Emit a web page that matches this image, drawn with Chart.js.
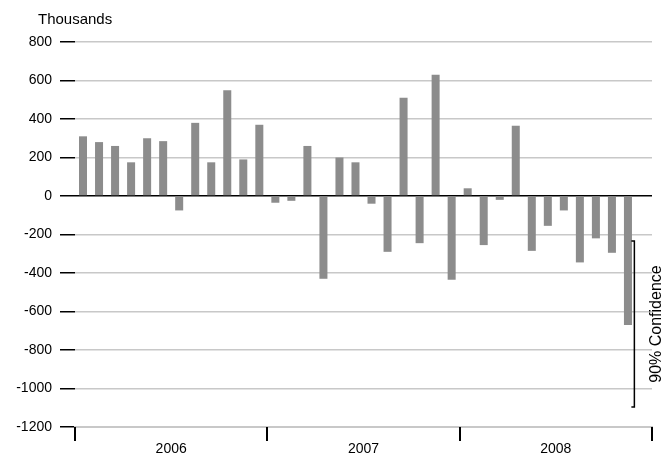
<!DOCTYPE html>
<html>
<head>
<meta charset="utf-8">
<script src="https://cdn.jsdelivr.net/npm/chart.js@4"></script>
<style>
  html, body { margin: 0; padding: 0; background: #fff; }
  #wrap { width: 662px; height: 462px; }
</style>
</head>
<body>
<div id="wrap"><canvas id="chart"></canvas></div>
<script>
// Monthly change, thousands (Jan 2006 - Dec 2008)
const months = [];
const years = ['2006', '2007', '2008'];
years.forEach(y => { for (let m = 1; m <= 12; m++) months.push(y + '-' + m); });

const values = [
  310, 280, 260, 175, 300, 285, -75, 380, 175, 550, 190, 370,
  -35, -25, 260, -430, 200, 175, -40, -290, 510, -245, 630, -435,
  40, -255, -20, 365, -285, -155, -75, -345, -220, -295, -670, null
];
const confidenceRange = [-234, -1096];
const confidenceLabel = '90% Confidence';
const yTicks = [800, 600, 400, 200, 0, -200, -400, -600, -800, -1000, -1200];

// Year dividers, year labels, title and confidence bracket
const extras = {
  id: 'extras',
  afterDraw(chart) {
    const ctx = chart.ctx;
    const x = chart.scales.x, y = chart.scales.y;
    const area = chart.chartArea;
    const step = x.getPixelForValue(1) - x.getPixelForValue(0);
    ctx.save();
    ctx.strokeStyle = '#000';
    ctx.lineWidth = 2;
    ctx.fillStyle = '#000';
    ctx.font = '14px "Liberation Sans", Arial, sans-serif';
    ctx.textAlign = 'center';
    ctx.textBaseline = 'middle';
    for (let i = 0; i <= years.length; i++) {
      const px = Math.round(x.getPixelForValue(i * 12) - step / 2);
      ctx.beginPath();
      ctx.moveTo(px, area.bottom);
      ctx.lineTo(px, area.bottom + 14);
      ctx.stroke();
      if (i < years.length) {
        const mid = x.getPixelForValue(i * 12 + 5.5);
        ctx.fillText(years[i], mid, area.bottom + 22);
      }
    }
    // title
    ctx.textAlign = 'left';
    ctx.font = '15px "Liberation Sans", Arial, sans-serif';
    ctx.fillText('Thousands', 38, 20);
    // confidence bracket
    const bx = x.getPixelForValue(34.4);
    const y1 = y.getPixelForValue(confidenceRange[0]);
    const y2 = y.getPixelForValue(confidenceRange[1]);
    ctx.lineWidth = 1.5;
    ctx.beginPath();
    ctx.moveTo(bx - 3, y1); ctx.lineTo(bx, y1); ctx.lineTo(bx, y2); ctx.lineTo(bx - 3, y2);
    ctx.stroke();
    ctx.translate(bx + 22, (y1 + y2) / 2);
    ctx.rotate(-Math.PI / 2);
    ctx.textAlign = 'center';
    ctx.font = '16px "Liberation Sans", Arial, sans-serif';
    ctx.fillText(confidenceLabel, 0, 0);
    ctx.restore();
  }
};

new Chart(document.getElementById('chart'), {
  type: 'bar',
  data: {
    labels: months,
    datasets: [{
      data: values,
      backgroundColor: '#8c8c8c',
      categoryPercentage: 1,
      barPercentage: 0.5
    }]
  },
  options: {
    responsive: true,
    maintainAspectRatio: false,
    animation: false,
    layout: { padding: { top: 42, right: 10, left: 0, bottom: 0 } },
    plugins: { legend: { display: false }, tooltip: { enabled: false } },
    scales: {
      x: {
        ticks: { display: false },
        grid: { display: false },
        border: { display: true, color: '#c8c8c8', width: 2 },
        afterFit(s) { s.height = 35; }
      },
      y: {
        min: -1200,
        max: 800,
        afterBuildTicks(s) { s.ticks = yTicks.map(v => ({ value: v })); },
        afterFit(s) { s.width = 75; },
        border: { display: false },
        grid: {
          color: c => c.tick && c.tick.value === 0 ? '#000' : '#c8c8c8',
          lineWidth: c => c.tick && c.tick.value === 0 ? 1.5 : 1.5,
          tickColor: '#000',
          tickLength: 15,
          z: -1
        },
        ticks: {
          color: '#000',
          padding: 8,
          callback: v => String(v),
          font: { size: 14, family: '"Liberation Sans", Arial, sans-serif' }
        }
      }
    }
  },
  plugins: [extras]
});
</script>
</body>
</html>
